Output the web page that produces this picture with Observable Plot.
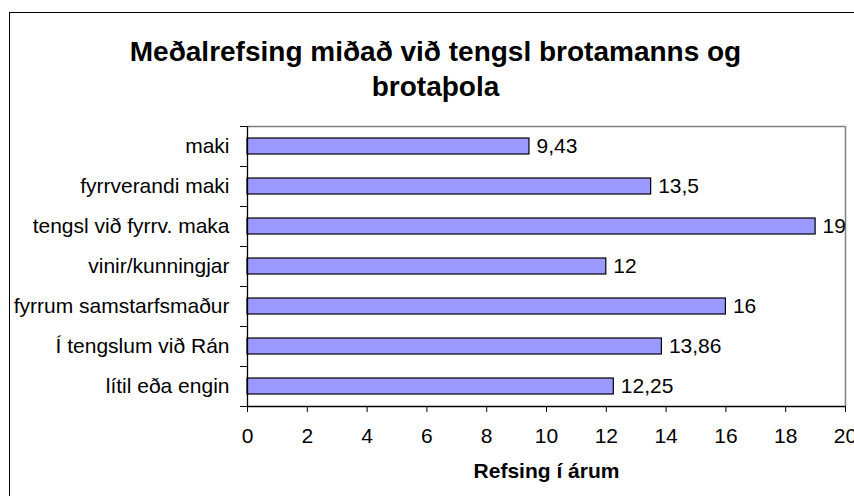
<!DOCTYPE html>
<html><head><meta charset="utf-8">
<script src="https://cdn.jsdelivr.net/npm/d3@7"></script>
<script src="https://cdn.jsdelivr.net/npm/@observablehq/plot@0.6"></script>
<style>
html,body{margin:0;padding:0;background:#fff;}
#wrap{position:relative;width:854px;height:496px;overflow:hidden;background:#fff;}
#border{position:absolute;left:9px;top:12px;width:900px;height:600px;border:1px solid #000;pointer-events:none;}
svg{display:block;}
</style></head><body><div id="wrap"><div id="chart"></div><div id="border"></div></div>
<script>
const categories = ["maki", "fyrrverandi maki", "tengsl við fyrrv. maka", "vinir/kunningjar", "fyrrum samstarfsmaður", "Í tengslum við Rán", "lítil eða engin"];
const values = [9.43, 13.5, 19, 12, 16, 13.86, 12.25];
const xTicks = [0, 2, 4, 6, 8, 10, 12, 14, 16, 18, 20];
const titleLines = ["Meðalrefsing miðað við tengsl brotamanns og", "brotaþola"];
const xLabel = "Refsing í árum";

const data = categories.map((c, i) => ({category: c, value: values[i], i}));
const fmt = v => String(v).replace(".", ",");

const plot = Plot.plot({
  width: 854, height: 496,
  marginLeft: 247, marginRight: 9, marginTop: 126, marginBottom: 90,
  style: {fontFamily: "'Liberation Sans', Arial, sans-serif", fontSize: "21px", color: "#000", background: "transparent", overflow: "visible"},
  x: {domain: [0, 20]},
  y: {domain: [7, 0]},
  marks: [
    Plot.ruleY([0], {stroke: "#808080", strokeWidth: 1.5}),
    Plot.ruleX([20], {stroke: "#808080", strokeWidth: 1.5}),
    Plot.rectX(data, {x1: 0, x2: "value", y1: d => d.i + 0.3, y2: d => d.i + 0.7, fill: "#9999FF", stroke: "#000", strokeWidth: 1.2}),
    Plot.axisX({ticks: xTicks, tickSize: 6, tickPadding: 15.8, label: null, fontSize: 21, tickFormat: d => String(d)}),
    Plot.axisY({ticks: d3.range(0, 8), tickSize: 7, tickFormat: () => "", label: null}),
    Plot.ruleX([0], {stroke: "#000", strokeWidth: 1.3}),
    Plot.ruleY([7], {stroke: "#000", strokeWidth: 1.3}),
    Plot.text(data, {x: "value", y: d => d.i + 0.5, text: d => fmt(d.value), textAnchor: "start", dx: 7, fontSize: 21}),
    Plot.text(data, {frameAnchor: "left", y: d => d.i + 0.5, text: "category", textAnchor: "end", dx: -18, fontSize: 21}),
    Plot.text([titleLines.join("\n")], {frameAnchor: "top-left", dx: 188, dy: -90.2, lineAnchor: "top", textAnchor: "middle", fontSize: 28, fontWeight: "bold", lineHeight: 1.25}),
    Plot.text([xLabel], {frameAnchor: "bottom", dy: 64.3, lineAnchor: "middle", fontSize: 21, fontWeight: "bold"})
  ]
});
document.getElementById("chart").appendChild(plot);
</script>
</body></html>
